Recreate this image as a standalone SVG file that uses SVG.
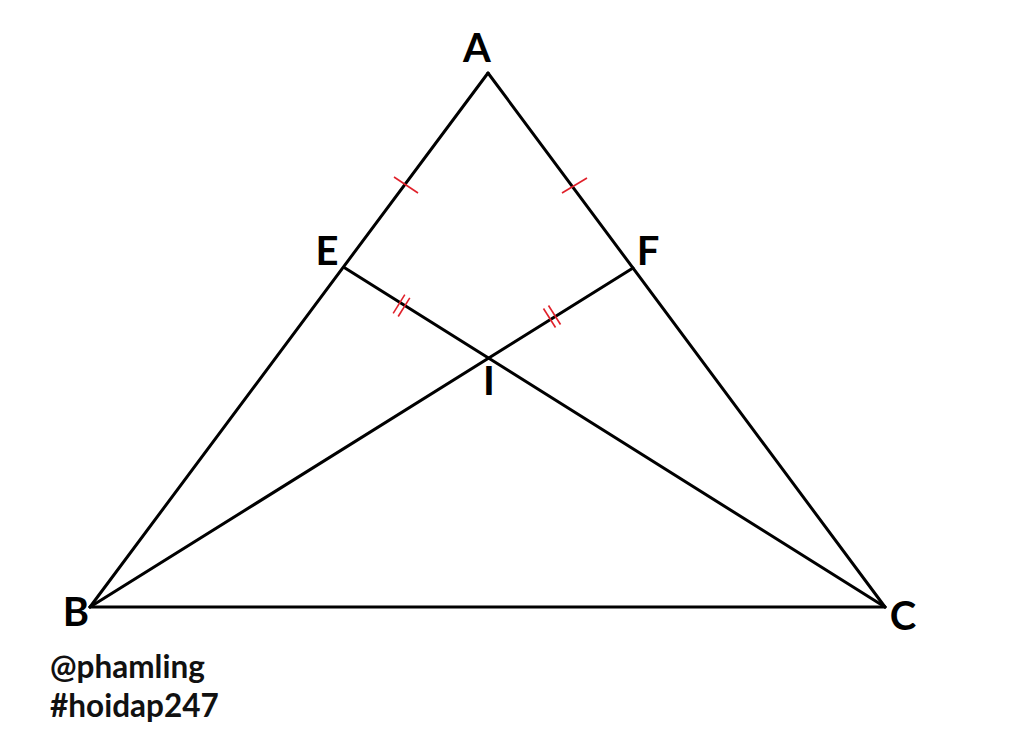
<svg xmlns="http://www.w3.org/2000/svg" width="1024" height="752" viewBox="0 0 1024 752">
<style>
.seg{stroke:#000;stroke-width:3;fill:none;stroke-linecap:round}
.tick{stroke:#e0202a;stroke-width:1.6;fill:none}
.lbl{font-family:Lato,"Liberation Sans",sans-serif;font-weight:bold;font-size:40px;fill:#000}
.wm{font-family:Lato,"Liberation Sans",sans-serif;font-weight:bold;font-size:31.5px;fill:#111}
</style>
<rect width="1024" height="752" fill="#fff"/>
<g id="connectors">
<line class="seg" x1="488" y1="73" x2="90" y2="607"/>
<line class="seg" x1="488" y1="73" x2="885" y2="607"/>
<line class="seg" x1="90" y1="607" x2="885" y2="607"/>
<line class="seg" x1="345" y1="268" x2="885" y2="607"/>
<line class="seg" x1="90" y1="607" x2="633" y2="268"/>
</g>
<g id="ticks">
<line class="tick" x1="394" y1="177" x2="418" y2="193"/>
<line class="tick" x1="562" y1="193" x2="587" y2="178"/>
<line class="tick" x1="393.2" y1="313.3" x2="404.8" y2="294.7"/>
<line class="tick" x1="398.2" y1="316.5" x2="409.8" y2="297.9"/>
<line class="tick" x1="543.5" y1="308.5" x2="555.5" y2="327.5"/>
<line class="tick" x1="548.5" y1="305.5" x2="560.5" y2="324.5"/>
</g>
<g id="A"><text class="lbl" x="477" y="62" text-anchor="middle">A</text></g>
<g id="B"><text class="lbl" x="76" y="626" text-anchor="middle">B</text></g>
<g id="C"><text class="lbl" x="903" y="630" text-anchor="middle">C</text></g>
<g id="E"><text class="lbl" x="327" y="265" text-anchor="middle">E</text></g>
<g id="F"><text class="lbl" x="648" y="265" text-anchor="middle">F</text></g>
<g id="I"><text class="lbl" x="489" y="395" text-anchor="middle">I</text></g>
<g id="watermark">
<text class="wm" x="50" y="678">@phamling</text>
<text class="wm" x="50" y="717">#hoidap247</text>
</g>
</svg>
